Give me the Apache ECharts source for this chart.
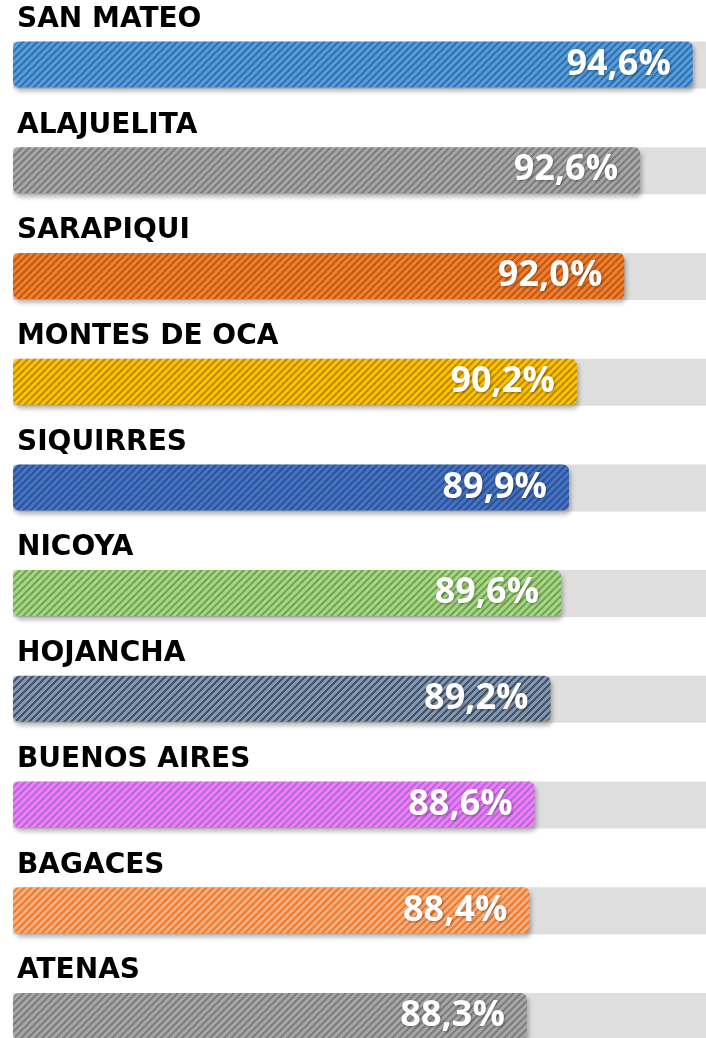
<!DOCTYPE html>
<html>
<head>
<meta charset="utf-8">
<script src="https://cdn.jsdelivr.net/npm/echarts@6/dist/echarts.min.js"></script>
<style>
  html, body { margin: 0; padding: 0; background: #ffffff; }
  #chart { width: 706px; height: 1038px; }
</style>
</head>
<body>
<div id="chart"></div>
<script>
// Cantones ordered from highest to lowest percentage
const cantones = ['SAN MATEO', 'ALAJUELITA', 'SARAPIQUI', 'MONTES DE OCA', 'SIQUIRRES',
                  'NICOYA', 'HOJANCHA', 'BUENOS AIRES', 'BAGACES', 'ATENAS'];
const porcentajes = [94.6, 92.6, 92.0, 90.2, 89.9, 89.6, 89.2, 88.6, 88.4, 88.3];

// Fill colour of each bar and the darker tone of its diagonal hatch
const baseColors  = ['#5b9bd5', '#a5a5a5', '#ed7d31', '#ffc000', '#4472c4',
                     '#a9d18e', '#8497b0', '#f07ef0', '#f8ae7c', '#a5a5a5'];
const hatchColors = ['#2e75b6', '#7f7f7f', '#c55a11', '#bf9000', '#2f5597',
                     '#70ad47', '#44546a', '#b46ae0', '#ed7d31', '#7f7f7f'];

// Visible span of the value axis
const axisMin = 68.8;
const axisMax = 95.1;

// Fine "/" diagonal hatch drawn pixel by pixel
function hatch(bg, fg) {
  const period = 7, width = 3;
  const c = document.createElement('canvas');
  c.width = period; c.height = period;
  const ctx = c.getContext('2d');
  ctx.fillStyle = bg;
  ctx.fillRect(0, 0, period, period);
  ctx.fillStyle = fg;
  for (let x = 0; x < period; x++) {
    for (let y = 0; y < period; y++) {
      if ((x + y) % period < width) ctx.fillRect(x, y, 1, 1);
    }
  }
  return c;
}

const barData = porcentajes.map((v, i) => ({
  value: v,
  itemStyle: { color: { image: hatch(baseColors[i], hatchColors[i]), repeat: 'repeat' } }
}));
const trackData = cantones.map(() => axisMax);

const chart = echarts.init(document.getElementById('chart'), null, { renderer: 'canvas' });
chart.setOption({
  animation: false,
  backgroundColor: '#ffffff',
  // categories sit on the grid edges: first row centre at the top, last at the bottom
  grid: { left: 13, right: 0, top: 64.5, bottom: 22 },
  xAxis: { type: 'value', min: axisMin, max: axisMax, show: false },
  yAxis: { type: 'category', data: cantones, inverse: true, boundaryGap: false, show: false },
  series: [
    {
      // light grey track behind every bar, carries the canton name above it
      type: 'bar',
      data: trackData,
      barWidth: 47,
      barGap: '-100%',
      silent: true,
      itemStyle: { color: '#dedede' },
      label: {
        show: true,
        position: [4, -22],
        align: 'left',
        verticalAlign: 'middle',
        formatter: p => p.name,
        fontFamily: 'DejaVu Sans',
        fontWeight: 'bold',
        fontSize: 28,
        color: '#000000'
      },
      z: 1
    },
    {
      type: 'bar',
      data: barData,
      barWidth: 46,
      barGap: '-100%',
      itemStyle: {
        borderRadius: 6,
        shadowColor: 'rgba(0,0,0,0.28)',
        shadowBlur: 4,
        shadowOffsetX: 2,
        shadowOffsetY: 4
      },
      label: {
        show: true,
        position: 'insideRight',
        distance: 22,
        formatter: p => p.value.toFixed(1).replace('.', ',') + '%',
        fontFamily: 'Open Sans',
        fontWeight: 'bold',
        fontSize: 36,
        color: '#ffffff',
        textShadowColor: 'rgba(0,0,0,0.35)',
        textShadowBlur: 3,
        textShadowOffsetX: 1,
        textShadowOffsetY: 1
      },
      z: 2
    }
  ]
});
</script>
</body>
</html>
